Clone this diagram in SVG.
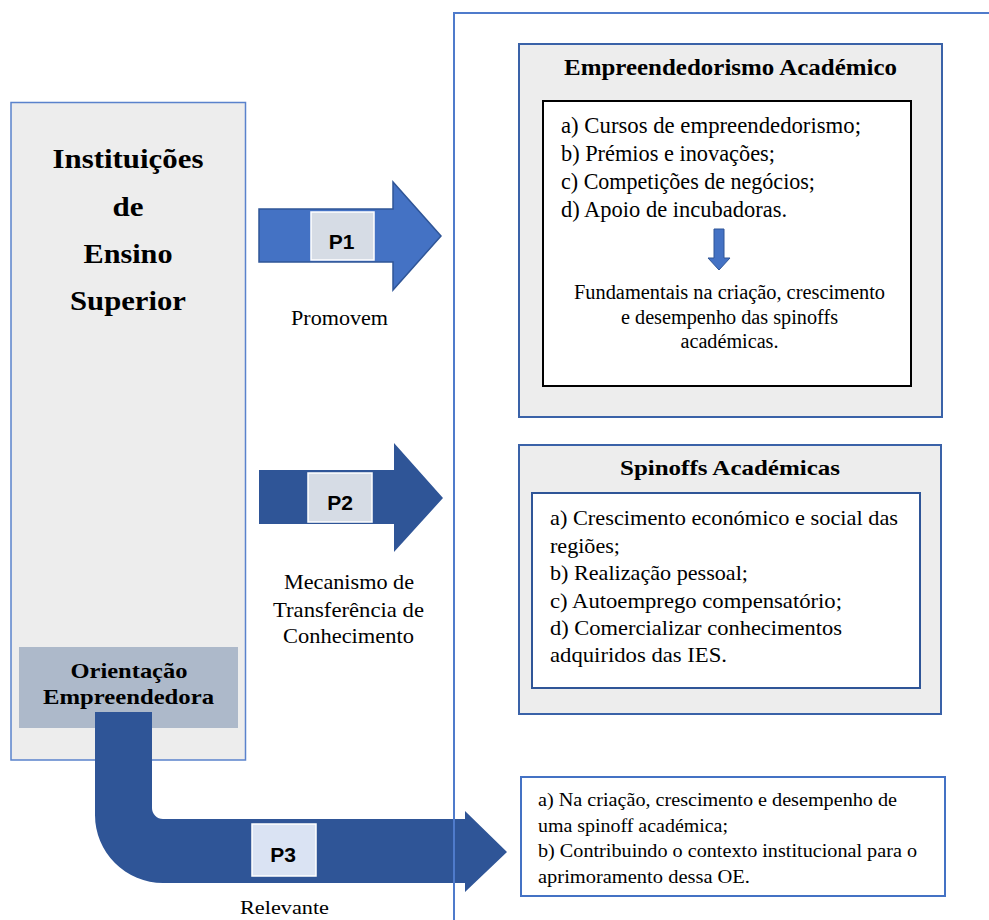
<svg xmlns="http://www.w3.org/2000/svg" width="989" height="920" viewBox="0 0 989 920">
  <style>
    .serif { font-family: "Liberation Serif", "DejaVu Serif", serif; fill: #000; }
    .bold { font-weight: bold; }
    .lbl { font-family: "Liberation Sans", Arial, sans-serif; font-weight: bold; font-size: 21px; fill: #000; text-anchor: middle; }
    .mid { text-anchor: middle; }
    .panel { fill: #EDEDED; }
    .pbox { fill: #D6DCE5; stroke: #FFFFFF; stroke-width: 1.5; }
  </style>

  <rect width="989" height="920" fill="#FFFFFF"/>

  <!-- Left column: higher-education institutions -->
  <g id="ies">
    <rect x="11" y="102.5" width="234.5" height="657.5" class="panel" stroke="#5A82CC" stroke-width="1.5"/>
    <g class="serif bold mid" font-size="28">
      <text x="128" y="168" textLength="151" lengthAdjust="spacingAndGlyphs">Instituições</text>
      <text x="128" y="216" textLength="31" lengthAdjust="spacingAndGlyphs">de</text>
      <text x="128" y="263" textLength="89" lengthAdjust="spacingAndGlyphs">Ensino</text>
      <text x="128" y="310" textLength="116" lengthAdjust="spacingAndGlyphs">Superior</text>
    </g>
  </g>

  <g id="orientacao">
    <rect x="19" y="647" width="219" height="81" fill="#ADB9CA"/>
    <g class="serif bold mid" font-size="21">
      <text x="129" y="678" textLength="117" lengthAdjust="spacingAndGlyphs">Orientação</text>
      <text x="128.5" y="704" textLength="171" lengthAdjust="spacingAndGlyphs">Empreendedora</text>
    </g>
  </g>

  <!-- Academic entrepreneurship -->
  <g id="empreendedorismo">
    <rect x="519" y="44" width="423" height="373" class="panel" stroke="#3A62A8" stroke-width="2"/>
    <text x="730.5" y="75" class="serif bold mid" font-size="23" textLength="333" lengthAdjust="spacingAndGlyphs">Empreendedorismo Académico</text>
    <rect x="543" y="101" width="368" height="285" fill="#FFFFFF" stroke="#000" stroke-width="2"/>
    <g class="serif" font-size="24">
      <text x="561" y="133" textLength="300" lengthAdjust="spacingAndGlyphs">a) Cursos de empreendedorismo;</text>
      <text x="561" y="161" textLength="214" lengthAdjust="spacingAndGlyphs">b) Prémios e inovações;</text>
      <text x="561" y="189" textLength="254" lengthAdjust="spacingAndGlyphs">c) Competições de negócios;</text>
      <text x="561" y="217" textLength="226" lengthAdjust="spacingAndGlyphs">d) Apoio de incubadoras.</text>
    </g>
    <path d="M714,229 H724 V258 H730 L719,270 L708,258 H714 Z" fill="#4472C4" stroke="#2F5597" stroke-width="1"/>
    <g class="serif mid" font-size="20">
      <text x="729.5" y="299" textLength="311" lengthAdjust="spacingAndGlyphs">Fundamentais na criação, crescimento</text>
      <text x="729.5" y="324" textLength="217" lengthAdjust="spacingAndGlyphs">e desempenho das spinoffs</text>
      <text x="729.5" y="348" textLength="98" lengthAdjust="spacingAndGlyphs">académicas.</text>
    </g>
  </g>

  <!-- Academic spinoffs -->
  <g id="spinoffs">
    <rect x="519" y="445" width="422" height="269" class="panel" stroke="#3A62A8" stroke-width="2"/>
    <text x="730" y="475" class="serif bold mid" font-size="22" textLength="220" lengthAdjust="spacingAndGlyphs">Spinoffs Académicas</text>
    <rect x="532" y="493" width="388" height="195" fill="#FFFFFF" stroke="#2F5597" stroke-width="2"/>
    <g class="serif" font-size="21">
      <text x="550" y="525" textLength="348" lengthAdjust="spacingAndGlyphs">a) Crescimento económico e social das</text>
      <text x="550" y="552.5" textLength="70" lengthAdjust="spacingAndGlyphs">regiões;</text>
      <text x="550" y="580" textLength="198" lengthAdjust="spacingAndGlyphs">b) Realização pessoal;</text>
      <text x="550" y="607.5" textLength="292" lengthAdjust="spacingAndGlyphs">c) Autoemprego compensatório;</text>
      <text x="550" y="635" textLength="292" lengthAdjust="spacingAndGlyphs">d) Comercializar conhecimentos</text>
      <text x="550" y="662" textLength="177" lengthAdjust="spacingAndGlyphs">adquiridos das IES.</text>
    </g>
  </g>

  <!-- Role of the entrepreneurial orientation -->
  <g id="relevancia">
    <rect x="521" y="777" width="424" height="119" fill="#FFFFFF" stroke="#4472C4" stroke-width="2"/>
    <g class="serif" font-size="18">
      <text x="538" y="806" textLength="359" lengthAdjust="spacingAndGlyphs">a) Na criação, crescimento e desempenho de</text>
      <text x="538" y="831.5" textLength="190" lengthAdjust="spacingAndGlyphs">uma spinoff académica;</text>
      <text x="538" y="857" textLength="379" lengthAdjust="spacingAndGlyphs">b) Contribuindo o contexto institucional para o</text>
      <text x="538" y="882.5" textLength="212" lengthAdjust="spacingAndGlyphs">aprimoramento dessa OE.</text>
    </g>
  </g>

  <!-- Block arrows P1, P2, P3 with their captions -->
  <g id="connectors">
    <g id="p1">
      <path d="M259,209 H393 V182 L441,236 L393,290 V262 H259 Z" fill="#4472C4" stroke="#2F5597" stroke-width="1.5"/>
      <rect x="311" y="212" width="63" height="48" class="pbox"/>
      <text x="341.5" y="249" class="lbl">P1</text>
      <text x="339.5" y="325" class="serif mid" font-size="20" textLength="97" lengthAdjust="spacingAndGlyphs">Promovem</text>
    </g>
    <g id="p2">
      <path d="M259,470 H394 V443 L443,498 L394,552 V524 H259 Z" fill="#2F5597"/>
      <rect x="308" y="473" width="64" height="49" class="pbox"/>
      <text x="340" y="510" class="lbl">P2</text>
      <g class="serif mid" font-size="21">
        <text x="349" y="589" textLength="130" lengthAdjust="spacingAndGlyphs">Mecanismo de</text>
        <text x="348.5" y="617" textLength="151" lengthAdjust="spacingAndGlyphs">Transferência de</text>
        <text x="348.5" y="643" textLength="131" lengthAdjust="spacingAndGlyphs">Conhecimento</text>
      </g>
    </g>
    <g id="p3">
      <path d="M95,712 V815 A68,68 0 0 0 163,883 H465 V892 L507,852 L465,811 V819 H163 A11,11 0 0 1 152,808 V712 Z" fill="#2F5597"/>
      <rect x="252" y="824" width="64" height="52" fill="#DAE3F3" stroke="#FFFFFF" stroke-width="1.5"/>
      <text x="283" y="862" class="lbl">P3</text>
      <text x="284.5" y="914" class="serif mid" font-size="19" textLength="89" lengthAdjust="spacingAndGlyphs">Relevante</text>
    </g>
  </g>

  <!-- Frame around the outcome side -->
  <g id="frame">
    <path d="M454,920 V13 H989" fill="none" stroke="#4F7BCB" stroke-width="2"/>
  </g>
</svg>
